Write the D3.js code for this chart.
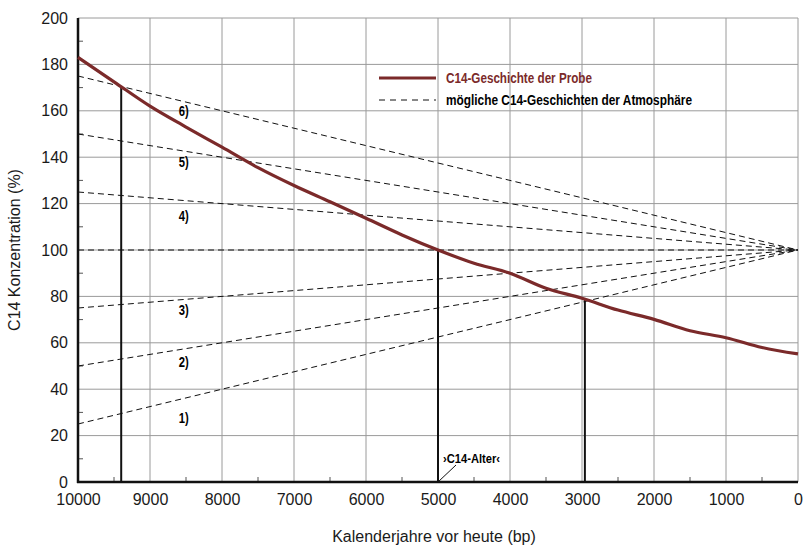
<!DOCTYPE html>
<html>
<head>
<meta charset="utf-8">
<script src="https://cdn.jsdelivr.net/npm/d3@7"></script>
<style>
  body { margin: 0; background: #fff; }
  text { font-family: "Liberation Sans", Arial, sans-serif; }
  .narrow { font-family: "Liberation Sans Narrow", "Arial Narrow", "Liberation Sans", sans-serif; font-weight: bold; }
</style>
</head>
<body>
<svg width="804" height="546"></svg>
<script>
// C14 history of the sample
const years = [10000, 9500, 9000, 8500, 8000, 7500, 7000, 6500, 6000, 5500, 5000,
               4500, 4000, 3500, 3000, 2500, 2000, 1500, 1000, 500, 0];
const probe = [183, 172.5, 162, 153, 144.3, 135.5, 127.8, 120.8, 113.7, 106.5, 100,
               94.3, 90, 83.5, 79.2, 74.1, 70.1, 65.2, 62.2, 58, 55.2];

// possible atmospheric histories: start value at 10000 bp, all meet 100 at 0 bp
const atmoStart = [25, 50, 75, 100, 125, 150, 175];
const atmoEnd = 100;
const atmoLabels = ["1)", "2)", "3)", "4)", "5)", "6)"];
const atmoLabelValues = [27.5, 51.5, 74, 114.5, 138, 160];
const labelYear = 8530;

// vertical markers down to the time axis
const markerYears = [9400, 5000, 2960];
const markerValues = [170, 100, 78.6];

const xTicks = d3.range(10000, -1, -1000);
const yTicks = d3.range(0, 201, 20);

const red = "#7b2a2a";

const svg = d3.select("svg"),
      margin = {top: 18, right: 6, bottom: 64, left: 78},
      width = +svg.attr("width") - margin.left - margin.right,
      height = +svg.attr("height") - margin.top - margin.bottom;

const g = svg.append("g").attr("transform", `translate(${margin.left},${margin.top})`);

const x = d3.scaleLinear().domain([10000, 0]).range([0, width]);
const y = d3.scaleLinear().domain([0, 200]).range([height, 0]);

// grid
g.append("g")
  .selectAll("line")
  .data(xTicks)
  .join("line")
  .attr("x1", d => x(d)).attr("x2", d => x(d))
  .attr("y1", 0).attr("y2", height)
  .attr("stroke", "#9a9a9a").attr("stroke-width", 1);

g.append("g")
  .selectAll("line")
  .data(yTicks)
  .join("line")
  .attr("x1", 0).attr("x2", width)
  .attr("y1", d => y(d)).attr("y2", d => y(d))
  .attr("stroke", "#9a9a9a").attr("stroke-width", 1);

// minor ticks
g.append("g")
  .selectAll("line")
  .data(d3.range(10, 200, 20))
  .join("line")
  .attr("x1", 0).attr("x2", 5)
  .attr("y1", d => y(d)).attr("y2", d => y(d))
  .attr("stroke", "#555");

g.append("g")
  .selectAll("line")
  .data(d3.range(9500, 0, -1000))
  .join("line")
  .attr("x1", d => x(d)).attr("x2", d => x(d))
  .attr("y1", height).attr("y2", height - 5)
  .attr("stroke", "#555");

// axes
const yAxis = g.append("g")
  .call(d3.axisLeft(y).tickValues(yTicks).tickSize(0).tickPadding(10));
yAxis.select(".domain").remove();
yAxis.selectAll("text")
  .style("font-size", "16px")
  .style("font-family", "'Liberation Sans', Arial, sans-serif")
  .attr("fill", "#1a1a1a");

const xAxis = g.append("g")
  .attr("transform", `translate(0,${height})`)
  .call(d3.axisBottom(x).tickValues(xTicks).tickFormat(d3.format("d")).tickSize(0).tickPadding(12));
xAxis.select(".domain").remove();
xAxis.selectAll("text")
  .style("font-size", "16px")
  .style("font-family", "'Liberation Sans', Arial, sans-serif")
  .attr("fill", "#1a1a1a");

g.append("line")
  .attr("x1", 0).attr("x2", 0).attr("y1", 0).attr("y2", height + 1)
  .attr("stroke", "#111").attr("stroke-width", 2.5);
g.append("line")
  .attr("x1", -1).attr("x2", width).attr("y1", height).attr("y2", height)
  .attr("stroke", "#111").attr("stroke-width", 2.5);

// dashed atmospheric histories
g.append("g")
  .selectAll("line")
  .data(atmoStart)
  .join("line")
  .attr("x1", x(10000)).attr("y1", d => y(d))
  .attr("x2", x(0)).attr("y2", y(atmoEnd))
  .attr("stroke", "#111").attr("stroke-width", 1)
  .attr("stroke-dasharray", "6,4");

g.append("g")
  .selectAll("text")
  .data(atmoLabels)
  .join("text")
  .attr("class", "narrow")
  .attr("x", x(labelYear))
  .attr("y", (d, i) => y(atmoLabelValues[i]))
  .attr("dy", "0.35em")
  .attr("text-anchor", "middle")
  .attr("textLength", 10)
  .attr("lengthAdjust", "spacingAndGlyphs")
  .style("font-size", "14px")
  .text(d => d);

// vertical markers
g.append("g")
  .selectAll("line")
  .data(markerYears)
  .join("line")
  .attr("x1", d => x(d)).attr("x2", d => x(d))
  .attr("y1", height).attr("y2", (d, i) => y(markerValues[i]))
  .attr("stroke", "#111").attr("stroke-width", 2);

// sample curve
const line = d3.line()
  .x((d, i) => x(years[i]))
  .y(d => y(d))
  .curve(d3.curveMonotoneX);

g.append("path")
  .datum(probe)
  .attr("fill", "none")
  .attr("stroke", red)
  .attr("stroke-width", 3.2)
  .attr("stroke-linejoin", "round")
  .attr("d", line);

// C14 age annotation
g.append("line")
  .attr("x1", x(5000)).attr("y1", height)
  .attr("x2", x(5000) + 18).attr("y2", height - 17)
  .attr("stroke", "#111").attr("stroke-width", 1);
g.append("text")
  .attr("class", "narrow")
  .attr("x", x(5000) + 5)
  .attr("y", height - 24)
  .attr("dy", "0.35em")
  .attr("textLength", 57)
  .attr("lengthAdjust", "spacingAndGlyphs")
  .style("font-size", "13px")
  .text("\u203AC14-Alter\u2039");

// legend
const legend = svg.append("g").attr("transform", "translate(379,78)");
legend.append("line")
  .attr("x1", 0).attr("x2", 57).attr("y1", 0).attr("y2", 0)
  .attr("stroke", red).attr("stroke-width", 3.2);
legend.append("text")
  .attr("class", "narrow")
  .attr("x", 67).attr("y", 0).attr("dy", "0.35em")
  .attr("fill", red)
  .attr("textLength", 146)
  .attr("lengthAdjust", "spacingAndGlyphs")
  .style("font-size", "14px")
  .text("C14-Geschichte der Probe");
legend.append("line")
  .attr("x1", 0).attr("x2", 57).attr("y1", 22).attr("y2", 22)
  .attr("stroke", "#111").attr("stroke-width", 1)
  .attr("stroke-dasharray", "6,5");
legend.append("text")
  .attr("class", "narrow")
  .attr("x", 67).attr("y", 22).attr("dy", "0.35em")
  .attr("textLength", 246)
  .attr("lengthAdjust", "spacingAndGlyphs")
  .style("font-size", "14px")
  .text("mögliche C14-Geschichten der Atmosphäre");

// axis titles
svg.append("text")
  .attr("x", margin.left + x(5000) - 4)
  .attr("y", 542)
  .attr("text-anchor", "middle")
  .style("font-size", "16px")
  .attr("fill", "#1a1a1a")
  .text("Kalenderjahre vor heute (bp)");

svg.append("text")
  .attr("transform", `translate(20,${margin.top + y(100)}) rotate(-90)`)
  .attr("text-anchor", "middle")
  .style("font-size", "16px")
  .attr("fill", "#1a1a1a")
  .text("C14 Konzentration (%)");
</script>
</body>
</html>
